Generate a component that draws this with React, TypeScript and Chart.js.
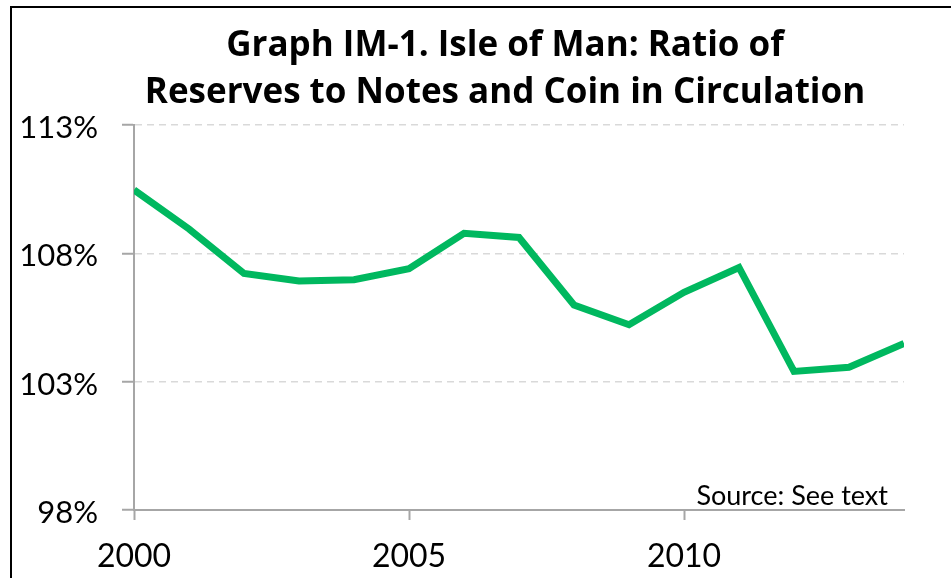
import React, { useEffect, useRef } from "react";
import { Chart, registerables } from "chart.js";

Chart.register(...registerables);

const years = [2000, 2001, 2002, 2003, 2004, 2005, 2006, 2007, 2008, 2009, 2010, 2011, 2012, 2013, 2014];
const ratio = [110.47, 108.95, 107.22, 106.92, 106.97, 107.4, 108.78, 108.62, 105.99, 105.22, 106.48, 107.45, 103.4, 103.56, 104.49];
const yTicks = [98, 103, 108, 113];
const xTicks = [2000, 2005, 2010];
const titleLines = ["Graph IM-1. Isle of Man: Ratio of", "Reserves to Notes and Coin in Circulation"];
const sourceNote = "Source: See text";

const FONT = "Lato, 'Open Sans', sans-serif";
const TITLE_FONT = "'Open Sans', Lato, sans-serif";

export default function App() {
  const canvasRef = useRef<HTMLCanvasElement | null>(null);

  useEffect(() => {
    document.body.style.margin = "0";
    const canvas = canvasRef.current;
    if (!canvas) return;

    const textPlugin = {
      id: "customText",
      afterDraw(chart: any) {
        const { ctx, chartArea } = chart;
        ctx.save();
        ctx.fillStyle = "#000";
        ctx.textAlign = "center";
        ctx.textBaseline = "alphabetic";
        ctx.font = `bold 35px ${TITLE_FONT}`;
        ctx.fillText(titleLines[0], 505, 56);
        ctx.fillText(titleLines[1], 505, 103);
        ctx.font = `27px ${FONT}`;
        ctx.textAlign = "right";
        ctx.fillText(sourceNote, chartArea.right - 16, chartArea.bottom - 5);
        ctx.restore();
      },
    };

    const chart = new Chart(canvas, {
      type: "line",
      data: {
        datasets: [
          {
            data: years.map((y, i) => ({ x: y, y: ratio[i] })),
            borderColor: "#00B85F",
            borderWidth: 7,
            pointRadius: 0,
            tension: 0,
            fill: false,
          },
        ],
      },
      options: {
        responsive: false,
        animation: false,
        layout: { padding: { left: 18, right: 47, top: 125, bottom: 0 } },
        plugins: {
          legend: { display: false },
          title: { display: false },
          tooltip: { enabled: false },
        },
        scales: {
          x: {
            type: "linear",
            min: 2000,
            max: 2014,
            afterBuildTicks: (scale: any) => {
              scale.ticks = xTicks.map((v) => ({ value: v }));
            },
            afterFit: (scale: any) => {
              scale.height = 68;
            },
            ticks: {
              color: "#000",
              font: { family: FONT, size: 32 },
              padding: 17,
              maxRotation: 0,
              callback: (v: any) => String(v),
            },
            grid: {
              drawOnChartArea: false,
              drawTicks: true,
              tickLength: 10,
              color: "#A6A6A6",
              tickColor: "#A6A6A6",
              tickWidth: 2,
            },
            border: { color: "#A6A6A6", width: 2 },
          },
          y: {
            min: 98,
            max: 113,
            afterBuildTicks: (scale: any) => {
              scale.ticks = yTicks.map((v) => ({ value: v }));
            },
            afterFit: (scale: any) => {
              scale.width = 134 - 18;
            },
            ticks: {
              color: "#000",
              font: { family: FONT, size: 31 },
              padding: 24,
              labelOffset: 3,
              callback: (v: any) => `${v}%`,
            },
            grid: {
              drawTicks: true,
              tickLength: 12,
              color: (c: any) => (c.tick && c.tick.value === 98 ? "rgba(0,0,0,0)" : "#D9D9D9"),
              tickColor: "#A6A6A6",
              tickWidth: 2,
              lineWidth: 1.5,
            },
            border: { color: "#A6A6A6", width: 2, dash: [7, 5] },
          },
        },
      },
      plugins: [textPlugin],
    });

    return () => chart.destroy();
  }, []);

  return (
    <div style={{ position: "relative", width: 951, height: 578, overflow: "hidden", background: "#fff" }}>
      <canvas ref={canvasRef} width={951} height={578} style={{ display: "block" }} />
      <div
        style={{
          position: "absolute",
          left: 10,
          top: 6,
          width: 2000,
          height: 2000,
          borderLeft: "2.5px solid #000",
          borderTop: "2.5px solid #000",
          pointerEvents: "none",
        }}
      />
    </div>
  );
}
